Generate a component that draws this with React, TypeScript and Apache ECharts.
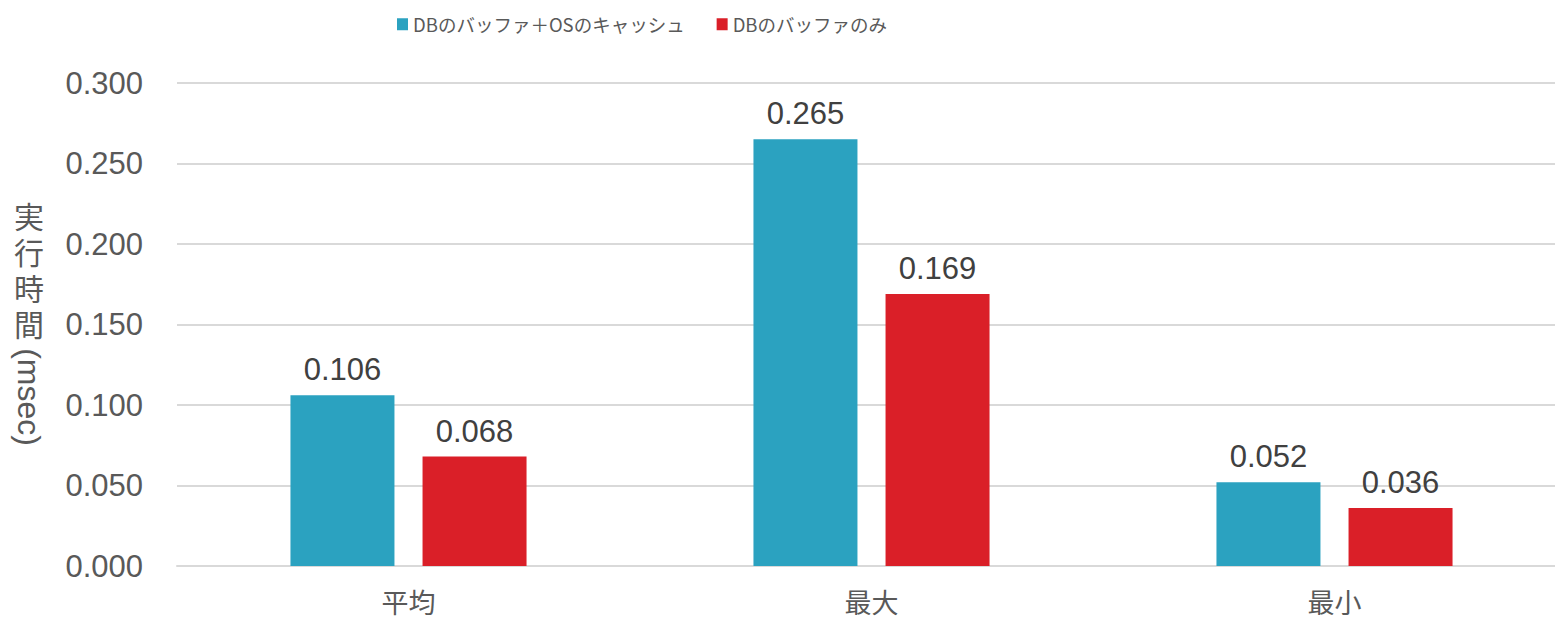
import React, { useEffect, useRef } from "react";
import * as echarts from "echarts";

const categories = ["平均", "最大", "最小"];
const seriesNames = ["DBのバッファ＋OSのキャッシュ", "DBのバッファのみ"];
const withOsCache = [0.106, 0.265, 0.052];
const bufferOnly = [0.068, 0.169, 0.036];
const yTicks = { min: 0, max: 0.3, interval: 0.05 };
const yAxisTitleKanji = ["実", "行", "時", "間"];
const yAxisTitleUnit = "(msec)";

const colors = ["#2BA2C0", "#DA1F28"];

export default function App() {
  const ref = useRef<HTMLDivElement>(null);
  useEffect(() => {
    document.body.style.margin = "0";
    if (!ref.current) return;
    const chart = echarts.init(ref.current, undefined, { renderer: "svg" });
    const labelStyle = {
      show: true,
      position: "top" as const,
      distance: 10,
      color: "#404040",
      fontSize: 31,
      fontFamily: "Liberation Sans, Arial, sans-serif",
      formatter: (p: any) => p.value.toFixed(3),
    };
    const kanjiTexts = yAxisTitleKanji.map((ch, i) => ({
      type: "text",
      x: 14,
      y: 200 + i * 36,
      style: {
        text: ch,
        fontSize: 30,
        fill: "#595959",
        fontFamily: "Noto Sans CJK JP, sans-serif",
        verticalAlign: "top",
      },
    }));
    chart.setOption({
      animation: false,
      backgroundColor: "#ffffff",
      legend: {
        left: 392,
        top: 10,
        itemWidth: 11,
        itemHeight: 12,
        itemGap: 32,
        icon: "rect",
        textStyle: {
          fontSize: 18.5,
          color: "#595959",
          fontFamily: "Noto Sans CJK JP, sans-serif",
        },
        data: seriesNames,
      },
      grid: { left: 177, top: 83, right: 14, bottom: 54, containLabel: false },
      xAxis: {
        type: "category",
        data: categories,
        axisLine: { show: true, lineStyle: { color: "#d9d9d9", width: 2 } },
        axisTick: { show: false },
        axisLabel: {
          margin: 20,
          fontSize: 27,
          lineHeight: 30,
          color: "#595959",
          fontFamily: "Noto Sans CJK JP, sans-serif",
        },
      },
      yAxis: {
        type: "value",
        min: yTicks.min,
        max: yTicks.max,
        interval: yTicks.interval,
        axisLine: { show: false },
        axisTick: { show: false },
        splitLine: { lineStyle: { color: "#d9d9d9", width: 2 } },
        axisLabel: {
          margin: 34,
          fontSize: 31,
          color: "#595959",
          fontFamily: "Liberation Sans, Arial, sans-serif",
          formatter: (v: number) => v.toFixed(3),
        },
      },
      graphic: [
        ...kanjiTexts,
        {
          type: "text",
          x: 29,
          y: 397,
          rotation: -Math.PI / 2,
          style: {
            text: yAxisTitleUnit,
            fontSize: 32,
            fill: "#595959",
            align: "center",
            verticalAlign: "middle",
            fontFamily: "Liberation Sans, Arial, sans-serif",
          },
        },
      ],
      series: [
        {
          name: seriesNames[0],
          type: "bar",
          data: withOsCache,
          barWidth: 104,
          barGap: "27%",
          itemStyle: { color: colors[0] },
          label: labelStyle,
        },
        {
          name: seriesNames[1],
          type: "bar",
          data: bufferOnly,
          barWidth: 104,
          barGap: "27%",
          itemStyle: { color: colors[1] },
          label: labelStyle,
        },
      ],
    });
    return () => chart.dispose();
  }, []);
  return (
    <div style={{ width: 1555, height: 620, overflow: "hidden" }}>
      <div ref={ref} style={{ width: 1580, height: 620 }} />
    </div>
  );
}
